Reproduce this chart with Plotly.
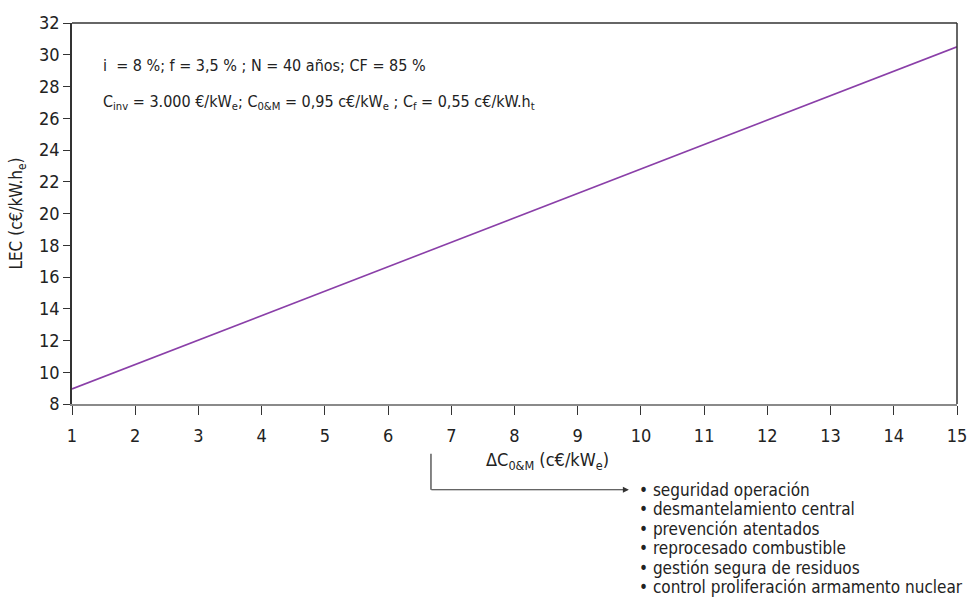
import plotly.graph_objects as go

# Data
delta_com = [1, 15]
lec = [8.95, 30.5]
x_ticks = list(range(1, 16))
y_ticks = list(range(8, 33, 2))
params_line1 = "i  = 8 %; f = 3,5 % ; N = 40 años; CF = 85 %"
params_line2 = ("C<sub>inv</sub> = 3.000 €/kW<sub>e</sub>; C<sub>0&M</sub> = 0,95 c€/kW<sub>e</sub> ; "
                "C<sub>f</sub> = 0,55 c€/kW.h<sub>t</sub>")
x_title = "ΔC<sub>0&M</sub> (c€/kW<sub>e</sub>)"
y_title = "LEC (c€/kW.h<sub>e</sub>)"
factors = ["seguridad operación", "desmantelamiento central", "prevención atentados",
           "reprocesado combustible", "gestión segura de residuos",
           "control proliferación armamento nuclear"]

FONT = "'DejaVu Sans Condensed', 'Liberation Sans Narrow', 'DejaVu Sans', sans-serif"
W, H = 979, 605
L, R, T, B = 72, 17, 13, 201
PW, PH = W - L - R, H - T - B

def px2paper_x(px):
    return (px - L) / PW

def px2paper_y(py):
    return (H - B - py) / PH

fig = go.Figure()
fig.add_trace(go.Scatter(x=delta_com, y=lec, mode="lines",
                         line=dict(color="#8a3fa8", width=1.6), showlegend=False))

fig.update_layout(
    width=W, height=H, margin=dict(l=L, r=R, t=T, b=B),
    paper_bgcolor="white", plot_bgcolor="white",
    font=dict(family=FONT, size=16, color="#222"),
    xaxis=dict(range=[1, 15], tickvals=x_ticks, showgrid=False, zeroline=False,
               showline=True, linecolor="#8a8a8a", linewidth=2,
               ticks="outside", ticklen=9, tickcolor="#333", tickwidth=1.2,
               ticklabelstandoff=5, tickfont=dict(size=18)),
    yaxis=dict(range=[8, 32], tickvals=y_ticks, showgrid=False, zeroline=False,
               showline=True, linecolor="#333", linewidth=1.5,
               ticks="outside", ticklen=7, tickcolor="#333", tickwidth=1.2,
               tickfont=dict(size=18),
               title=dict(text=y_title, font=dict(size=17), standoff=12)),
)

# top and right border
fig.add_shape(type="line", xref="paper", yref="paper", x0=0, x1=1, y0=1, y1=1,
              line=dict(color="#333", width=1.5))
fig.add_shape(type="line", xref="paper", yref="paper", x0=1, x1=1, y0=0, y1=1,
              line=dict(color="#333", width=1.5))

# parameter text
fig.add_annotation(text=params_line1, xref="paper", yref="paper",
                   x=px2paper_x(101), y=px2paper_y(57), xanchor="left", yanchor="middle",
                   showarrow=False, font=dict(size=16))
fig.add_annotation(text=params_line2, xref="paper", yref="paper",
                   x=px2paper_x(101), y=px2paper_y(95), xanchor="left", yanchor="middle",
                   showarrow=False, font=dict(size=16))

# x axis title
fig.add_annotation(text=x_title, xref="paper", yref="paper",
                   x=px2paper_x(550), y=px2paper_y(462), xanchor="center", yanchor="middle",
                   showarrow=False, font=dict(size=18))

# arrow
fig.add_shape(type="line", xref="paper", yref="paper",
              x0=px2paper_x(433), x1=px2paper_x(433),
              y0=px2paper_y(455), y1=px2paper_y(492), line=dict(color="#333", width=1.2))
fig.add_annotation(text="", xref="paper", yref="paper",
                   x=px2paper_x(632), y=px2paper_y(492),
                   ax=-(632 - 433), ay=0, axref="pixel", ayref="pixel",
                   showarrow=True, arrowhead=2, arrowsize=1, arrowwidth=1.2, arrowcolor="#333")

for i, f in enumerate(factors):
    fig.add_annotation(text="• " + f, xref="paper", yref="paper",
                       x=px2paper_x(640), y=px2paper_y(492 + 20 * i),
                       xanchor="left", yanchor="middle", showarrow=False,
                       font=dict(size=17))

fig.write_html("out.html")
